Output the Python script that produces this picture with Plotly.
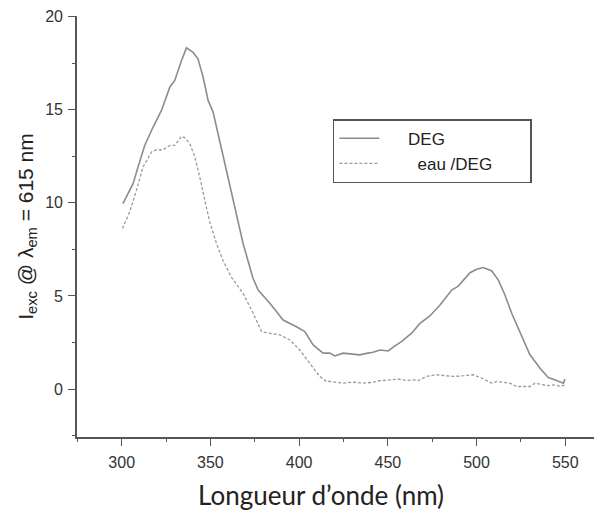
import plotly.graph_objects as go

# DEG (solid)
deg_x = [300.7, 306.4, 309.2, 313.0, 317.7, 322.4, 327.1, 329.9, 333.7, 336.5, 340.2, 343.0,
         345.9, 348.7, 351.5, 355.3, 359.0, 363.7, 368.4, 374.0, 376.9, 383.5, 391.0, 398.5,
         403.2, 407.9, 413.5, 417.3, 420.1, 424.8, 429.0, 434.2, 438.0, 441.7, 445.5, 450.2,
         454.0, 457.7, 463.4, 468.1, 473.7, 479.4, 486.0, 489.7, 496.3, 500.1, 503.8, 508.6,
         512.3, 516.0, 519.8, 525.4, 530.1, 535.8, 540.4, 544.0, 546.9, 548.9, 549.9]
deg_y = [9.96, 11.03, 11.92, 13.09, 14.07, 14.96, 16.21, 16.57, 17.64, 18.32, 18.08, 17.73,
         16.74, 15.50, 14.87, 13.36, 11.75, 9.78, 7.82, 5.95, 5.32, 4.61, 3.71, 3.35,
         3.09, 2.37, 1.93, 1.93, 1.78, 1.93, 1.90, 1.84, 1.92, 1.98, 2.10, 2.05,
         2.32, 2.55, 3.00, 3.53, 3.93, 4.52, 5.32, 5.53, 6.25, 6.43, 6.53, 6.34,
         5.85, 5.05, 4.07, 2.82, 1.84, 1.12, 0.62, 0.50, 0.41, 0.32, 0.54]

# eau /DEG (dashed)
eau_x = [300.4, 304.5, 308.3, 312.0, 316.8, 319.6, 323.3, 327.1, 329.9, 333.7, 335.5, 338.4,
         341.2, 344.0, 346.8, 349.6, 353.4, 357.1, 361.9, 368.4, 374.1, 378.8, 381.6, 389.2,
         394.8, 400.4, 406.0, 411.7, 415.4, 417.3, 424.8, 430.5, 436.1, 441.0, 445.5, 450.0,
         456.8, 460.6, 464.3, 467.1, 471.8, 477.5, 486.9, 493.0, 498.2, 502.9, 508.5, 511.3,
         518.8, 522.6, 530.1, 532.9, 539.5, 544.2, 547.0, 549.9]
eau_y = [8.62, 9.51, 10.67, 11.92, 12.73, 12.85, 12.85, 13.08, 13.08, 13.57, 13.50, 13.18,
         12.46, 11.39, 10.14, 8.98, 7.82, 6.90, 6.00, 5.14, 4.07, 3.09, 3.03, 2.91,
         2.64, 2.10, 1.39, 0.67, 0.41, 0.41, 0.32, 0.37, 0.32, 0.36, 0.45, 0.50,
         0.54, 0.46, 0.50, 0.46, 0.68, 0.77, 0.68, 0.72, 0.77, 0.59, 0.32, 0.41,
         0.32, 0.14, 0.14, 0.32, 0.19, 0.23, 0.14, 0.23]

x_ticks = [300, 350, 400, 450, 500, 550]
y_ticks = [0, 5, 10, 15, 20]

NB = "\u00a0"
fig = go.Figure()
fig.add_trace(go.Scatter(x=deg_x, y=deg_y, mode="lines", name=NB * 5 + "DEG",
                         line=dict(color="#8c8c8c", width=1.6)))
fig.add_trace(go.Scatter(x=eau_x, y=eau_y, mode="lines",
                         name=NB * 7 + "eau /DEG" + NB * 7,
                         line=dict(color="#9a9a9a", width=1.3, dash="3px,2px")))

axis_common = dict(showgrid=False, zeroline=False, showline=True, linecolor="#555555",
                   linewidth=1.6, ticks="outside", tickcolor="#555555", tickwidth=1.3,
                   ticklen=7, automargin=False,
                   tickfont=dict(family="Liberation Sans, Arial", size=16, color="#333333"))

fig.update_xaxes(range=[274.8, 566.2], tickvals=x_ticks,
                 minor=dict(dtick=25, tick0=275, ticks="outside", ticklen=3,
                            tickcolor="#555555", tickwidth=1.3),
                 ticklabelstandoff=3, **axis_common)
fig.update_yaxes(range=[-2.57, 20.03], tickvals=y_ticks,
                 minor=dict(dtick=2.5, tick0=0, ticks="outside", ticklen=3,
                            tickcolor="#555555", tickwidth=1.3),
                 title=dict(text="I<sub>exc</sub> @ λ<sub>em</sub> = 615 nm",
                            font=dict(family="Liberation Sans, Arial", size=21, color="#222222"),
                            standoff=6),
                 ticklabelstandoff=2, **axis_common)

fig.add_annotation(text="Longueur d’onde (nm)", xref="paper", yref="paper",
                   x=0.4717, y=-0.137, xanchor="center", yanchor="middle", showarrow=False,
                   font=dict(family="Lato, Open Sans", size=26, color="#222222"))

# the page body adds an 8px offset; margins compensate for it
fig.update_layout(
    width=602, height=513,
    margin=dict(l=69, r=16, t=8, b=84),
    plot_bgcolor="white", paper_bgcolor="white",
    showlegend=True,
    legend=dict(x=0.495, y=0.755, xanchor="left", yanchor="top",
                bordercolor="#555555", borderwidth=1.5, bgcolor="white",
                font=dict(family="Liberation Sans, Arial", size=17, color="#222222"),
                tracegroupgap=0, itemwidth=40),
)

fig.write_html("out.html")
